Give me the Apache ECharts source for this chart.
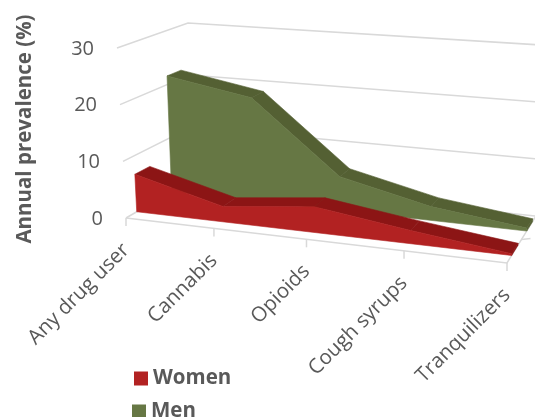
<!DOCTYPE html>
<html><head><meta charset="utf-8">
<style>html,body{margin:0;padding:0;background:#fff}#c{width:535px;height:417px}</style>
<script src="https://cdn.jsdelivr.net/npm/echarts@6/dist/echarts.min.js"></script>
</head><body><div id="c"></div>
<script>
const categories = ['Any drug user','Cannabis','Opioids','Cough syrups','Tranquilizers'];
const women = [6.7, 2.7, 4.4, 2.2, 0.3];
const men = [21.6, 18.8, 6.0, 2.4, 0.5];
const valueTicks = [0, 10, 20, 30];
const FONT = '"Open Sans", sans-serif';

// Oblique view of the box that holds the chart
const box = {
  FLB:[126,218], FRB:[507,263], BLB:[193,179], BRB:[536,216],
  FLT:[117,48],  FRT:[518,77],  BLT:[188,23],  BRT:[541,45]
};
const lerp = (a,b,t)=>[a[0]+(b[0]-a[0])*t, a[1]+(b[1]-a[1])*t];
const warp = u => u/(u+(1-u)*1.111);
function project(u,v,d){
  const w = warp(u);
  const bot = lerp(lerp(box.FLB,box.FRB,w), lerp(box.BLB,box.BRB,w), d);
  const top = lerp(lerp(box.FLT,box.FRT,w), lerp(box.BLT,box.BRT,w), d);
  return lerp(bot,top,v);
}
// grid-space pixel from ECharts' scales -> normalised -> view
function viaAxes(api,params,cat,val,d){
  const c = api.coord([cat,val]), s = params.coordSys;
  return project((c[0]-s.x)/s.width, (s.y+s.height-c[1])/s.height, d);
}
function poly(points,fill){
  return {type:'polygon',shape:{points},style:{fill,stroke:fill,lineWidth:0.6}};
}
function line(points,color,w){
  return {type:'polyline',shape:{points},style:{fill:'none',stroke:color,lineWidth:w||1.5}};
}
function bandRenderer(values,d0,d1,front,topc){
  return function(params,api){
    if(params.dataIndex!==values.length-1) return;
    const n=values.length, ch=[];
    const p=(i,v,d)=>viaAxes(api,params,i,v,d);
    for(let i=0;i<n-1;i++){
      ch.push(poly([p(i,values[i],d0),p(i+1,values[i+1],d0),p(i+1,values[i+1],d1),p(i,values[i],d1)],topc));
    }
    ch.push(poly([p(n-1,0,d0),p(n-1,values[n-1],d0),p(n-1,values[n-1],d1),p(n-1,0,d1)],topc));
    const f=[];
    values.forEach((v,i)=>f.push(p(i,v,d0)));
    f.push(p(n-1,0,d0),p(0,0,d0));
    ch.push(poly(f,front));
    return {type:'group',children:ch};
  };
}
function wallsRenderer(params,api){
  if(params.dataIndex!==categories.length-1) return;
  const n=categories.length, ch=[], G='#D9D9D9';
  const p=(i,v,d)=>viaAxes(api,params,i,v,d);
  valueTicks.forEach(t=>{
    ch.push(line([p(0,t,0),p(0,t,1),p(n-1,t,1)],G));
    const q=p(0,t,0);
    ch.push({type:'text',x:q[0]-23,y:q[1]+1,style:{text:String(t),x:0,y:0,align:'right',verticalAlign:'middle',font:'20px '+FONT,fill:'#595959'}});
  });
  ch.push(line([p(0,0,0),p(n-1,0,0),p(n-1,0,1)],G));
  const e=p(n-1,0,.5);
  ch.push(line([e,[e[0]+9,e[1]-1]],G));
  categories.forEach((c,i)=>{
    const q=p(i,0,0);
    ch.push(line([q,[q[0],q[1]+8]],G));
    ch.push({type:'text',x:q[0],y:q[1]+29,rotation:Math.PI/4,style:{text:c,x:0,y:0,align:'right',verticalAlign:'middle',font:'20.5px '+FONT,fill:'#595959'}});
  });
  return {type:'group',children:ch,silent:true};
}
const idx = categories.map((c,i)=>i);
const chart = echarts.init(document.getElementById('c'),null,{renderer:'canvas'});
chart.setOption({
  animation:false,
  backgroundColor:'#fff',
  grid:{left:126,right:28,top:40,height:178},
  xAxis:{type:'category',data:categories,boundaryGap:false,show:false},
  yAxis:{type:'value',min:0,max:30,interval:10,
    axisLine:{show:false},axisTick:{show:false},axisLabel:{show:false},splitLine:{show:false},
    name:'Annual prevalence (%)',nameLocation:'middle',nameRotate:90,nameGap:90,
    nameTextStyle:{fontFamily:FONT,fontWeight:'bold',fontSize:20.5,color:'#595959'}},
  legend:[
    {left:134,top:365,data:['Women'],orient:'vertical',itemWidth:14,itemHeight:14,itemGap:4,padding:[3,0,0,0],icon:'rect',
      textStyle:{fontFamily:FONT,fontWeight:'bold',fontSize:20.5,color:'#595959'}},
    {left:132,top:398,data:['Men'],orient:'vertical',itemWidth:14,itemHeight:14,itemGap:4,padding:[3,0,0,0],icon:'rect',
      textStyle:{fontFamily:FONT,fontWeight:'bold',fontSize:20.5,color:'#595959'}}
  ],
  series:[
    {type:'custom',name:'axes',silent:true,z:1,encode:{x:0,y:1},data:idx.map(i=>[i,0]),clip:false,renderItem:wallsRenderer},
    {type:'custom',name:'Men',z:2,clip:false,itemStyle:{color:'#667744'},encode:{x:0,y:1},data:men.map((v,i)=>[i,v]),
      renderItem:bandRenderer(men,.68,.88,'#667744','#546033')},
    {type:'custom',name:'Women',z:3,clip:false,itemStyle:{color:'#B22222'},encode:{x:0,y:1},data:women.map((v,i)=>[i,v]),
      renderItem:bandRenderer(women,.16,.38,'#B22222','#8C1515')}
  ]
});
</script></body></html>
